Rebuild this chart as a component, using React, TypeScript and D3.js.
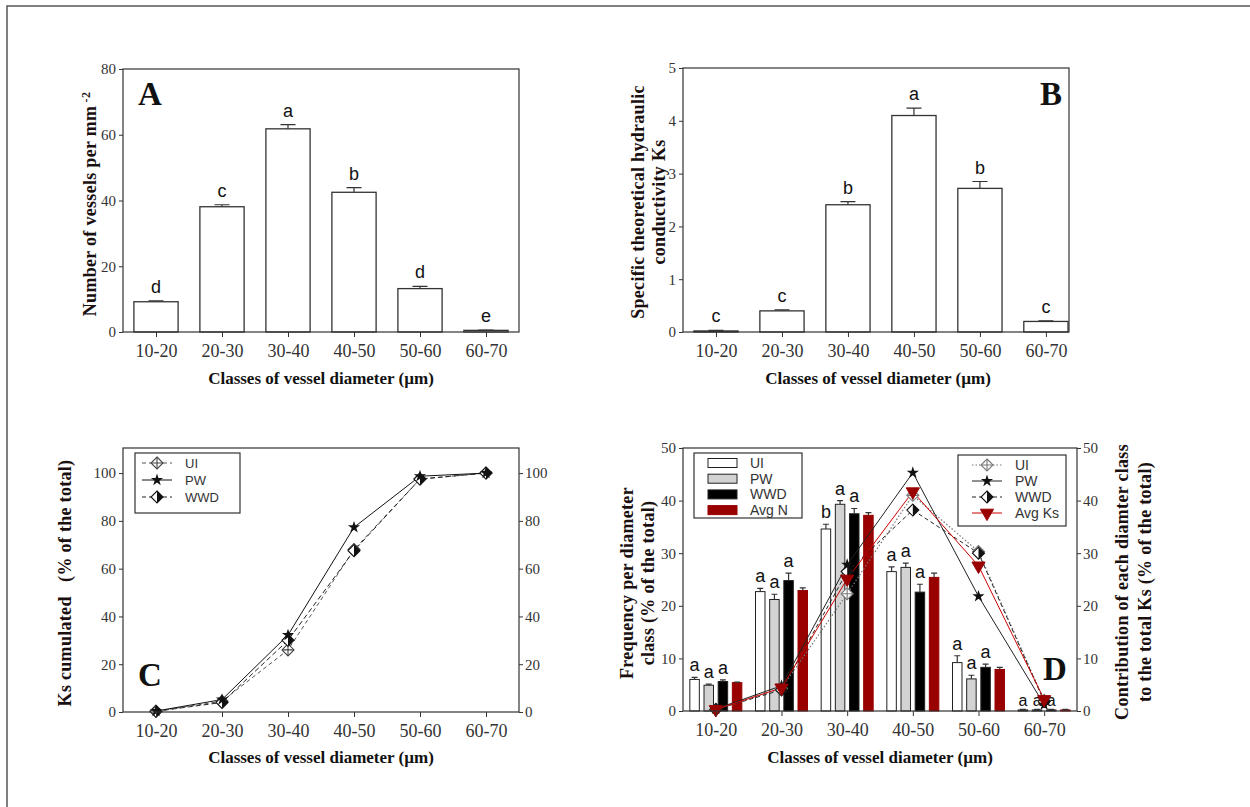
import * as d3 from "d3";
import React, { useEffect, useRef } from "react";

const classes = ["10-20", "20-30", "30-40", "40-50", "50-60", "60-70"];

// Panel A - number of vessels per mm-2
const vesselsMean = [9.2, 38.1, 61.8, 42.5, 13.2, 0.5];
const vesselsErr = [0.3, 0.6, 1.3, 1.4, 0.7, 0.1];
const vesselsLetters = ["d", "c", "a", "b", "d", "e"];

// Panel B - specific theoretical hydraulic conductivity
const ksMean = [0.02, 0.4, 2.41, 4.1, 2.72, 0.2];
const ksErr = [0.01, 0.02, 0.06, 0.14, 0.13, 0.01];
const ksLetters = ["c", "c", "b", "a", "b", "c"];

// Panel C - cumulated Ks
const cumUI = [0.3, 4.5, 26.0, 68.0, 97.5, 100];
const cumPW = [0.4, 5.2, 32.2, 77.3, 98.7, 100];
const cumWWD = [0.3, 4.0, 30.0, 67.5, 97.5, 100];

// Panel D - frequency bars
const freqSeries = ["UI", "PW", "WWD", "Avg N"];
const freqUI = [6.0, 22.7, 34.6, 26.5, 9.2, 0.2];
const freqUIErr = [0.4, 0.6, 0.9, 0.9, 1.3, 0.1];
const freqPW = [4.9, 21.2, 39.3, 27.3, 6.1, 0.2];
const freqPWErr = [0.2, 1.0, 0.7, 0.8, 0.7, 0.1];
const freqWWD = [5.6, 24.8, 37.5, 22.6, 8.3, 0.2];
const freqWWDErr = [0.3, 1.4, 1.0, 1.5, 0.6, 0.1];
const freqAvg = [5.4, 22.9, 37.2, 25.4, 7.9, 0.2];
const freqAvgErr = [0.1, 0.5, 0.5, 0.8, 0.4, 0.1];
const freqLetters = [
  ["a", "a", "a"],
  ["a", "a", "a"],
  ["b", "a", "a"],
  ["a", "a", "a"],
  ["a", "a", "a"],
  ["a", "a", "a"],
];

// Panel D - contribution to total Ks (right axis)
const contribUI = [0.3, 4.3, 22.3, 41.0, 30.3, 2.0];
const contribPW = [0.4, 4.8, 27.8, 45.3, 21.8, 1.2];
const contribWWD = [0.3, 4.0, 26.5, 38.2, 30.0, 1.8];
const contribAvg = [0.3, 4.4, 25.1, 41.7, 27.6, 2.2];

const SERIF = "'Liberation Serif', 'Times New Roman', serif";
const SANS = "'Liberation Sans', Arial, sans-serif";
const AXIS = "#333";
const DARKRED = "#990000";

type G = d3.Selection<SVGGElement, unknown, null, undefined>;

const App: React.FC = () => {
  const ref = useRef<SVGSVGElement>(null);

  useEffect(() => {
    const svg = d3.select(ref.current);
    svg.selectAll("*").remove();
    const root = svg.append("g") as unknown as G;
    const idx = d3.range(1, 7);

    // outer frame (top and left only)
    root.append("path")
      .attr("d", "M7,807 L7,6 L1250,6")
      .attr("fill", "none")
      .attr("stroke", "#555")
      .attr("stroke-width", 1.5);

    const styleAxis = (g: G, size: number) => {
      g.select(".domain").remove();
      g.selectAll("line").attr("stroke", AXIS);
      g.selectAll("text")
        .attr("fill", AXIS)
        .style("font-family", SERIF)
        .style("font-size", size + "px");
    };

    const box = (g: G, l: number, r: number, t: number, b: number) => {
      g.append("rect")
        .attr("x", l).attr("y", t)
        .attr("width", r - l).attr("height", b - t)
        .attr("fill", "none")
        .attr("stroke", AXIS)
        .attr("stroke-width", 1.2);
    };

    const xAxis = (g: G, x: d3.ScaleLinear<number, number>, bottom: number) => {
      const ax = g.append("g")
        .attr("transform", `translate(0,${bottom})`)
        .call(d3.axisBottom(x).tickValues(idx).tickFormat((d) => classes[+d - 1]).tickSize(5).tickPadding(7)) as unknown as G;
      styleAxis(ax, 18);
    };

    const yAxisLeft = (g: G, y: d3.ScaleLinear<number, number>, left: number, ticks: number[]) => {
      const ax = g.append("g")
        .attr("transform", `translate(${left},0)`)
        .call(d3.axisLeft(y).tickValues(ticks).tickFormat(d3.format("d")).tickSize(4).tickPadding(3)) as unknown as G;
      styleAxis(ax, 15);
    };

    const yAxisRight = (g: G, y: d3.ScaleLinear<number, number>, right: number, ticks: number[]) => {
      const ax = g.append("g")
        .attr("transform", `translate(${right},0)`)
        .call(d3.axisRight(y).tickValues(ticks).tickFormat(d3.format("d")).tickSize(4).tickPadding(2)) as unknown as G;
      styleAxis(ax, 15);
    };

    const xTitle = (g: G, cx: number, yb: number) => {
      g.append("text")
        .attr("x", cx).attr("y", yb)
        .attr("text-anchor", "middle")
        .style("font-family", SERIF)
        .style("font-size", "17px")
        .style("font-weight", "bold")
        .attr("fill", "#111")
        .text("Classes of vessel diameter (\u00b5m)");
    };

    const yTitle = (g: G, cx: number, cy: number, lines: string[], gap: number) => {
      const t = g.append("text")
        .attr("transform", `translate(${cx},${cy}) rotate(-90)`)
        .attr("text-anchor", "middle")
        .style("font-family", SERIF)
        .style("font-size", "18px")
        .style("font-weight", "bold")
        .style("letter-spacing", "0.3px")
        .style("white-space", "pre")
        .attr("fill", "#1a1010");
      lines.forEach((ln, i) => {
        t.append("tspan")
          .attr("x", 0)
          .attr("y", (i - (lines.length - 1) / 2) * gap)
          .attr("dy", "0.35em")
          .text(ln);
      });
      return t;
    };

    const panelLetter = (g: G, x: number, y: number, s: string) => {
      g.append("text")
        .attr("x", x).attr("y", y)
        .style("font-family", SERIF)
        .style("font-size", "33px")
        .style("font-weight", "bold")
        .attr("fill", "#111")
        .text(s);
    };

    const sigLetter = (g: G, x: number, y: number, s: string, size = 18) => {
      g.append("text")
        .attr("x", x).attr("y", y)
        .attr("text-anchor", "middle")
        .style("font-family", SANS)
        .style("font-size", size + "px")
        .attr("fill", "#111")
        .text(s);
    };

    const errorBar = (g: G, cx: number, y0: number, y1: number, cap: number) => {
      g.append("path")
        .attr("d", `M${cx},${y0} L${cx},${y1} M${cx - cap / 2},${y1} L${cx + cap / 2},${y1}`)
        .attr("stroke", AXIS)
        .attr("stroke-width", 1.2)
        .attr("fill", "none");
    };

    // ---- simple bar panels (A and B)
    const barPanel = (
      l: number, r: number, t: number, b: number, xDomain: [number, number],
      yMax: number, ticks: number[], means: number[], errs: number[], letters: string[]
    ) => {
      const g = root.append("g") as unknown as G;
      const x = d3.scaleLinear().domain(xDomain).range([l, r]);
      const y = d3.scaleLinear().domain([0, yMax]).range([b, t]);
      const bw = (x(2) - x(1)) * 0.67;
      idx.forEach((i) => {
        const cx = x(i);
        g.append("rect")
          .attr("x", cx - bw / 2)
          .attr("y", y(means[i - 1]))
          .attr("width", bw)
          .attr("height", b - y(means[i - 1]))
          .attr("fill", "#fff")
          .attr("stroke", AXIS)
          .attr("stroke-width", 1.3);
        const top = y(means[i - 1] + errs[i - 1]);
        errorBar(g, cx, y(means[i - 1]), top, bw * 0.34);
        sigLetter(g, cx, top - 8, letters[i - 1]);
      });
      box(g, l, r, t, b);
      xAxis(g, x, b);
      yAxisLeft(g, y, l, ticks);
      return g;
    };

    // Panel A
    const gA = barPanel(123, 519, 69, 332, [0.5, 6.5], 80, [0, 20, 40, 60, 80], vesselsMean, vesselsErr, vesselsLetters);
    panelLetter(gA, 138, 105, "A");
    xTitle(gA, 321, 384);
    const tA = yTitle(gA, 90, 204, ["Number of vessels per mm"], 0);
    tA.select("tspan").append("tspan")
      .attr("dy", "-0.5em")
      .style("font-size", "12px")
      .text(" -2");

    // Panel B
    const gB = barPanel(683, 1069, 68, 332, [0.5, 6.35], 5, [0, 1, 2, 3, 4, 5], ksMean, ksErr, ksLetters);
    panelLetter(gB, 1040, 105, "B");
    xTitle(gB, 878, 384);
    yTitle(gB, 648, 202, ["Specific theoretical hydraulic", "conductivity Ks"], 21);

    // ---- markers
    const diamondPath = (r: number) => `M0,${-r} L${r},0 L0,${r} L${-r},0 Z`;
    const drawMarker = (g: G, kind: string, cx: number, cy: number, color: string) => {
      const m = g.append("g").attr("transform", `translate(${cx},${cy})`);
      if (kind === "UI") {
        m.append("path").attr("d", diamondPath(6)).attr("fill", "#fff").attr("stroke", color).attr("stroke-width", 1.1);
        m.append("path").attr("d", "M-6,0 L6,0 M0,-6 L0,6").attr("stroke", color).attr("stroke-width", 1.1);
      } else if (kind === "PW") {
        m.append("path").attr("d", d3.symbol(d3.symbolStar, 46)()).attr("fill", "#111");
      } else if (kind === "WWD") {
        m.append("path").attr("d", diamondPath(6)).attr("fill", "#fff").attr("stroke", "#111").attr("stroke-width", 1.1);
        m.append("path").attr("d", "M0,-6 L6,0 L0,6 Z").attr("fill", "#111");
      } else {
        m.append("path").attr("d", d3.symbol(d3.symbolTriangle, 75)()).attr("transform", "rotate(180)")
          .attr("fill", DARKRED).attr("stroke", DARKRED);
      }
    };

    // ---- Panel C
    const gC = root.append("g") as unknown as G;
    {
      const l = 123, r = 519, t = 448, b = 712;
      const x = d3.scaleLinear().domain([0.5, 6.5]).range([l, r]);
      const y = d3.scaleLinear().domain([0, 110.5]).range([b, t]);
      const line = d3.line<number>().x((_, i) => x(i + 1)).y((d) => y(d));
      const seriesC = [
        { key: "UI", values: cumUI, dash: "4,3", color: "#555" },
        { key: "WWD", values: cumWWD, dash: "5,3", color: "#222" },
        { key: "PW", values: cumPW, dash: null as string | null, color: "#111" },
      ];
      seriesC.forEach((s) => {
        gC.append("path")
          .attr("d", line(s.values))
          .attr("fill", "none")
          .attr("stroke", s.color)
          .attr("stroke-width", 1)
          .attr("stroke-dasharray", s.dash);
      });
      seriesC.forEach((s) => {
        s.values.forEach((v, i) => drawMarker(gC, s.key, x(i + 1), y(v), "#444"));
      });
      box(gC, l, r, t, b);
      xAxis(gC, x, b);
      yAxisLeft(gC, y, l, [0, 20, 40, 60, 80, 100]);
      yAxisRight(gC, y, r, [0, 20, 40, 60, 80, 100]);
      panelLetter(gC, 138, 686, "C");
      xTitle(gC, 321, 763);
      yTitle(gC, 65, 583, ["Ks cumulated   (% of the total)"], 0);

      // legend
      gC.append("rect").attr("x", 135).attr("y", 453).attr("width", 105).attr("height", 60)
        .attr("fill", "#fff").attr("stroke", AXIS).attr("stroke-width", 1.2);
      const legC = [
        { key: "UI", dash: "4,3", color: "#555" },
        { key: "PW", dash: null as string | null, color: "#111" },
        { key: "WWD", dash: "4,3", color: "#222" },
      ];
      legC.forEach((s, i) => {
        const ly = 463 + i * 17;
        gC.append("line").attr("x1", 142).attr("x2", 172).attr("y1", ly).attr("y2", ly)
          .attr("stroke", s.color).attr("stroke-dasharray", s.dash);
        drawMarker(gC, s.key, 157, ly, "#444");
        gC.append("text").attr("x", 185).attr("y", ly).attr("dy", "0.35em")
          .style("font-family", SANS).style("font-size", "13px").attr("fill", AXIS).text(s.key);
      });
    }

    // ---- Panel D
    const gD = root.append("g") as unknown as G;
    {
      const l = 683, r = 1077, t = 448, b = 711;
      const x = d3.scaleLinear().domain([0.5, 6.5]).range([l, r]);
      const y = d3.scaleLinear().domain([0, 50]).range([b, t]);
      const inner = d3.scaleBand<string>().domain(freqSeries).range([-26, 26]).paddingInner(0.33);
      const fills = ["#fff", "#d3d3d3", "#000", DARKRED];
      const means = [freqUI, freqPW, freqWWD, freqAvg];
      const errs = [freqUIErr, freqPWErr, freqWWDErr, freqAvgErr];
      idx.forEach((i) => {
        freqSeries.forEach((s, k) => {
          const bx = x(i) + inner(s)!;
          const bw = inner.bandwidth();
          const v = means[k][i - 1];
          gD.append("rect")
            .attr("x", bx).attr("y", y(v))
            .attr("width", bw).attr("height", b - y(v))
            .attr("fill", fills[k])
            .attr("stroke", k === 3 ? DARKRED : "#222")
            .attr("stroke-width", 1);
          const top = y(v + errs[k][i - 1]);
          errorBar(gD, bx + bw / 2, y(v), top, 6);
          if (k < 3) sigLetter(gD, bx + bw / 2, top - (i === 6 ? 3 : 6), freqLetters[i - 1][k], i === 6 ? 16 : 18);
        });
      });

      const line = d3.line<number>().x((_, i) => x(i + 1)).y((d) => y(d));
      const seriesD = [
        { key: "UI", values: contribUI, dash: "1.5,2", color: "#777", width: 1.2 },
        { key: "WWD", values: contribWWD, dash: "4,3", color: "#222", width: 1 },
        { key: "PW", values: contribPW, dash: null as string | null, color: "#222", width: 1 },
        { key: "Avg", values: contribAvg, dash: null as string | null, color: "#cc0000", width: 1 },
      ];
      seriesD.forEach((s) => {
        gD.append("path")
          .attr("d", line(s.values))
          .attr("fill", "none")
          .attr("stroke", s.color)
          .attr("stroke-width", s.width)
          .attr("stroke-dasharray", s.dash);
      });
      seriesD.forEach((s) => {
        s.values.forEach((v, i) => drawMarker(gD, s.key, x(i + 1), y(v), "#777"));
      });

      box(gD, l, r, t, b);
      xAxis(gD, x, b);
      yAxisLeft(gD, y, l, [0, 10, 20, 30, 40, 50]);
      yAxisRight(gD, y, r, [0, 10, 20, 30, 40, 50]);
      panelLetter(gD, 1043, 680, "D");
      xTitle(gD, 880, 763);
      yTitle(gD, 637, 583, ["Frequency per diameter", "class (% of the total)"], 21);
      yTitle(gD, 1133, 582, ["Contribution of each diamter class", "to the total Ks (% of the total)"], 23);

      // bar legend
      gD.append("rect").attr("x", 694).attr("y", 453).attr("width", 108).attr("height", 65)
        .attr("fill", "#fff").attr("stroke", AXIS).attr("stroke-width", 1.2);
      freqSeries.forEach((s, k) => {
        const ly = 463 + k * 15.7;
        gD.append("rect").attr("x", 708).attr("y", ly - 4.5).attr("width", 29).attr("height", 9)
          .attr("fill", fills[k]).attr("stroke", k === 3 ? DARKRED : "#222");
        gD.append("text").attr("x", 750).attr("y", ly).attr("dy", "0.35em")
          .style("font-family", SANS).style("font-size", "14px").attr("fill", AXIS).text(s);
      });

      // line legend
      gD.append("rect").attr("x", 958).attr("y", 455).attr("width", 108).attr("height", 71)
        .attr("fill", "#fff").attr("stroke", AXIS).attr("stroke-width", 1.2);
      const legD = [
        { key: "UI", label: "UI", dash: "1.5,2", color: "#777" },
        { key: "PW", label: "PW", dash: null as string | null, color: "#222" },
        { key: "WWD", label: "WWD", dash: "4,3", color: "#222" },
        { key: "Avg", label: "Avg Ks", dash: null as string | null, color: "#cc0000" },
      ];
      legD.forEach((s, k) => {
        const ly = 465 + k * 16;
        gD.append("line").attr("x1", 972).attr("x2", 1002).attr("y1", ly).attr("y2", ly)
          .attr("stroke", s.color).attr("stroke-dasharray", s.dash);
        drawMarker(gD, s.key, 987, ly, "#777");
        gD.append("text").attr("x", 1015).attr("y", ly).attr("dy", "0.35em")
          .style("font-family", SANS).style("font-size", "14px").attr("fill", AXIS).text(s.label);
      });
    }
  }, []);

  return (
    <svg
      ref={ref}
      width={1250}
      height={807}
      style={{ position: "absolute", left: 0, top: 0, background: "#fff" }}
    ></svg>
  );
};

export default App;
